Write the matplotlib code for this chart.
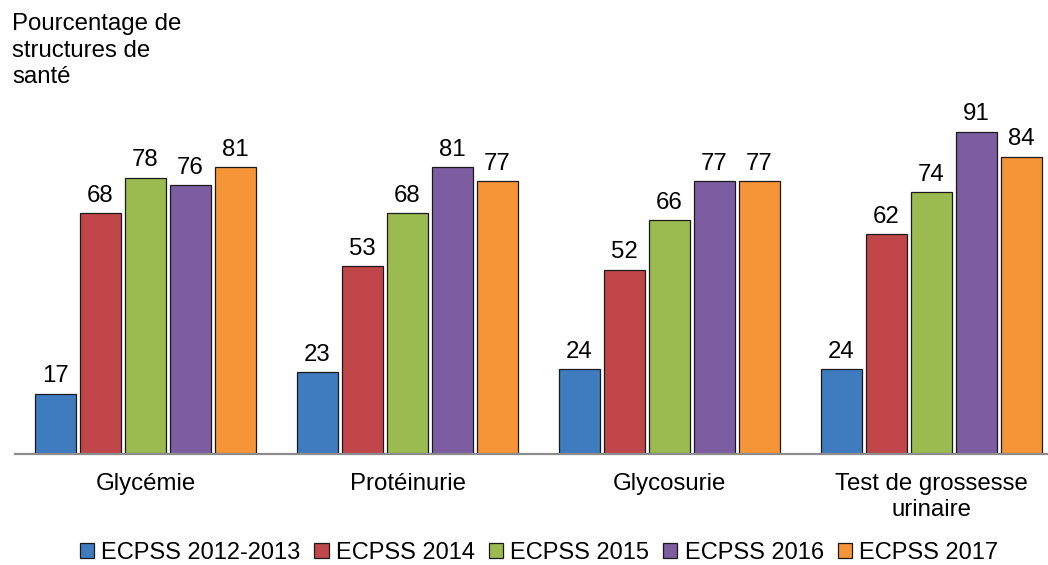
import matplotlib
matplotlib.use("Agg")
import matplotlib.pyplot as plt
import numpy as np

categories = ["Glycémie", "Protéinurie", "Glycosurie", "Test de grossesse\nurinaire"]
series_names = ["ECPSS 2012-2013", "ECPSS 2014", "ECPSS 2015", "ECPSS 2016", "ECPSS 2017"]
v_2012_2013 = [17, 23, 24, 24]
v_2014 = [68, 53, 52, 62]
v_2015 = [78, 68, 66, 74]
v_2016 = [76, 81, 77, 91]
v_2017 = [81, 77, 77, 84]
series_values = [v_2012_2013, v_2014, v_2015, v_2016, v_2017]
colors = ["#3F7BBF", "#C0464A", "#9BBB50", "#7D5DA1", "#F59538"]
title = "Pourcentage de\nstructures de\nsanté"

plt.rcParams["font.family"] = ["Liberation Sans", "DejaVu Sans"]
FS = 17.3
W, H = 1048, 565
fig = plt.figure(figsize=(W / 100, H / 100), dpi=100)
ax_left = 14.5 / W
ax_bottom = (H - 453.7) / H
ax_height = 353.8 / H
ax = fig.add_axes([ax_left, ax_bottom, 1 - ax_left, ax_height])

x = np.arange(len(categories))
pitch = 45 / 262
width = 41 / 262
n = len(series_values)
for i, (name, vals, c) in enumerate(zip(series_names, series_values, colors)):
    pos = x + (i - (n - 1) / 2) * pitch
    bars = ax.bar(pos, vals, width=width, color=c, edgecolor="#1a1a1a",
                  linewidth=0.9, label=name, zorder=2)
    for b, v in zip(bars, vals):
        ax.annotate(str(v), (b.get_x() + b.get_width() / 2, v),
                    xytext=(0, 4.5), textcoords="offset points",
                    ha="center", va="bottom", fontsize=FS, color="#000000")

ax.set_xlim(-0.5, (W - 145.5) / 262)
ax.set_ylim(0, 100)
for s in ["top", "right", "left"]:
    ax.spines[s].set_visible(False)
ax.spines["bottom"].set_color("#8c8c8c")
ax.spines["bottom"].set_linewidth(1.6)
ax.spines["bottom"].set_zorder(3)
ax.set_yticks([])
ax.set_xticks(x)
ax.set_xticklabels(categories, fontsize=FS, linespacing=1.25)
ax.tick_params(axis="x", length=0, pad=14)

fig.text(12 / W, 1 - 13 / H, title, ha="left", va="top", fontsize=FS,
         linespacing=1.27)

leg = fig.legend(loc="center", bbox_to_anchor=(539 / W, 1 - 553 / H),
                 ncol=5, frameon=False, fontsize=17, handlelength=0.6,
                 handleheight=0.6, handletextpad=0.3, columnspacing=0.6,
                 borderaxespad=0)
for h in leg.legend_handles:
    h.set_linewidth(0.9)

fig.savefig("out.png", dpi=100)
